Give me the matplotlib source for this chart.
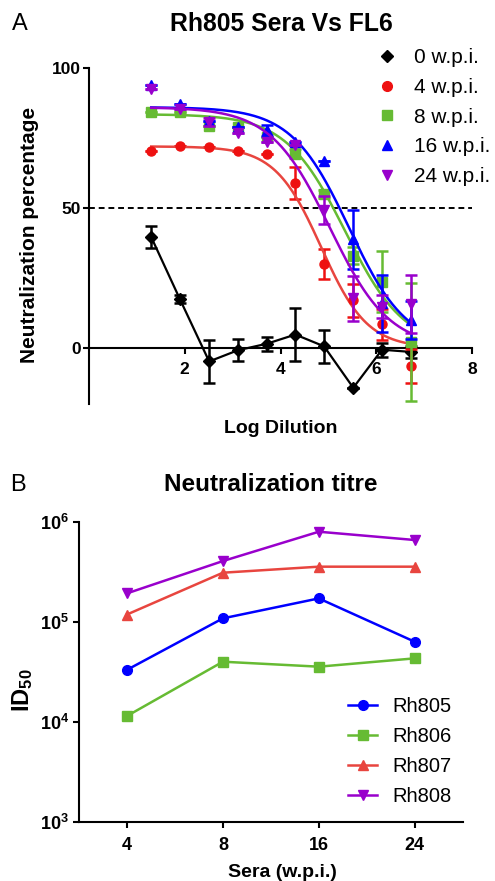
import numpy as np
import matplotlib

matplotlib.use("Agg")
import matplotlib.pyplot as plt
from matplotlib.lines import Line2D

plt.rcParams["font.family"] = ["Liberation Sans", "DejaVu Sans"]
plt.rcParams["mathtext.fontset"] = "custom"
plt.rcParams["mathtext.rm"] = "Liberation Sans"
plt.rcParams["mathtext.bf"] = "Liberation Sans:bold"

# ---- panel A: neutralization curves ----
log_dilution = [1.30, 1.90, 2.51, 3.11, 3.71, 4.31, 4.91, 5.52, 6.12, 6.72]

wpi0 = [39.6, 17.4, -4.8, -0.8, 1.5, 4.8, 0.6, -14.2, -0.6, -1.4]
wpi0_err = [3.8, 1.5, 7.6, 3.9, 2.5, 9.4, 5.8, 0.0, 2.5, 2.0]
wpi4 = [70.2, 72.0, 71.8, 70.4, 69.4, 58.9, 30.1, 17.0, 8.5, -6.5]
wpi4_err = [0.0, 0.0, 0.0, 0.0, 0.0, 5.6, 5.4, 6.0, 5.5, 6.0]
wpi8 = [84.3, 84.3, 79.2, 79.0, 75.4, 69.4, 54.9, 32.9, 23.7, 2.1]
wpi8_err = [0.0, 0.0, 0.0, 0.0, 0.0, 1.5, 1.5, 3.0, 11.0, 21.2]
wpi16 = [93.8, 87.3, 81.1, 78.9, 77.7, 73.6, 66.8, 38.8, 16.0, 10.0]
wpi16_err = [0.0, 0.0, 0.0, 0.0, 2.0, 0.0, 0.0, 10.5, 10.2, 6.7]
wpi24 = [92.6, 85.5, 80.8, 76.9, 73.6, 72.4, 49.2, 17.7, 14.8, 15.7]
wpi24_err = [0.0, 0.0, 1.5, 0.0, 0.0, 0.0, 5.0, 7.9, 4.0, 10.5]

# fitted sigmoid parameters: top, bottom, logEC50, hill slope
fit4 = (72.0, 0.0, 4.85, 0.90)
fit8 = (83.5, 0.0, 5.35, 0.70)
fit16 = (86.0, 0.0, 5.43, 0.72)
fit24 = (86.0, 0.0, 5.03, 0.70)

legend_a = ["0 w.p.i.", "4 w.p.i.", "8 w.p.i.", "16 w.p.i.", "24 w.p.i."]

# ---- panel B: ID50 titres ----
sera = ["4", "8", "16", "24"]
rh805 = [3.3e4, 1.08e5, 1.71e5, 6.3e4]
rh806 = [1.14e4, 3.98e4, 3.55e4, 4.3e4]
rh807 = [1.18e5, 3.09e5, 3.55e5, 3.55e5]
rh808 = [1.92e5, 4.04e5, 7.94e5, 6.56e5]
titre_ticks = [1e3, 1e4, 1e5, 1e6]
titre_labels = [r"$\mathbf{10^3}$", r"$\mathbf{10^4}$", r"$\mathbf{10^5}$", r"$\mathbf{10^6}$"]

BLACK = "#000000"
RED_PT = "#ee1111"
RED_LN = "#e8453f"
GREEN = "#66bb33"
BLUE = "#0000ff"
PURPLE = "#9900cc"

W, H = 495, 881


def fig_xy(px, py):
    return px / W, 1 - py / H


def sigmoid(x, top, bottom, logec50, hill):
    return bottom + (top - bottom) / (1 + 10 ** ((x - logec50) * hill))


fig = plt.figure(figsize=(W / 100, H / 100), dpi=100)

# ---------------- panel A ----------------
ax = fig.add_axes([89 / W, 1 - 404 / H, 383 / W, 336 / H])
ax.set_xlim(0, 8)
ax.set_ylim(-20, 100)
for s in ("top", "right"):
    ax.spines[s].set_visible(False)
ax.spines["bottom"].set_position(("data", 0))
for s in ("left", "bottom"):
    ax.spines[s].set_linewidth(1.5)
ax.set_xticks([2, 4, 6, 8])
ax.set_yticks([0, 50, 100])
ax.tick_params(width=1.5, length=4, labelsize=12.5)
ax.tick_params(axis="x", pad=6)
ax.tick_params(axis="y", pad=2)
for lab in ax.get_xticklabels() + ax.get_yticklabels():
    lab.set_fontweight("bold")

ax.axhline(50, color="black", ls=(0, (3, 2)), lw=1.4, zorder=1)

xs = np.linspace(log_dilution[0], log_dilution[-1], 200)
eb = dict(capsize=4.5, elinewidth=1.8, capthick=1.8)

ax.errorbar(log_dilution, wpi0, yerr=wpi0_err, color=BLACK, marker="D", ms=6,
            lw=1.6, zorder=3, **eb)
series = [
    (wpi4, wpi4_err, fit4, RED_PT, RED_LN, "o", 6.5),
    (wpi8, wpi8_err, fit8, GREEN, GREEN, "s", 6.5),
    (wpi16, wpi16_err, fit16, BLUE, BLUE, "^", 7),
    (wpi24, wpi24_err, fit24, PURPLE, PURPLE, "v", 7),
]
for i, (vals, err, fit, cpt, cln, mk, ms) in enumerate(series):
    ax.errorbar(log_dilution, vals, yerr=err, color=cpt, marker=mk, ms=ms,
                ls="none", zorder=4 + i, **eb)
    ax.plot(xs, sigmoid(xs, *fit), color=cln, lw=1.8, zorder=4 + i)

handles_a = [
    Line2D([], [], ls="none", marker="D", ms=6, color=BLACK),
    Line2D([], [], ls="none", marker="o", ms=7, color=RED_PT),
    Line2D([], [], ls="none", marker="s", ms=7, color=GREEN),
    Line2D([], [], ls="none", marker="^", ms=7, color=BLUE),
    Line2D([], [], ls="none", marker="v", ms=7, color=PURPLE),
]
fig.legend(handles_a, legend_a, loc="upper left", bbox_to_anchor=fig_xy(377, 48),
           frameon=False, fontsize=15, borderpad=0, borderaxespad=0,
           handlelength=0.95, handletextpad=0.85, labelspacing=0.52)

fig.text(*fig_xy(281, 31), "Rh805 Sera Vs FL6", ha="center", va="baseline",
         fontsize=17.8, fontweight="bold")
fig.text(*fig_xy(12, 30), "A", ha="left", va="baseline", fontsize=17)
fig.text(*fig_xy(30, 235), "Neutralization percentage", ha="center", va="center",
         rotation=90, fontsize=15, fontweight="bold")
fig.text(*fig_xy(281, 433), "Log Dilution", ha="center", va="baseline",
         fontsize=14, fontweight="bold")

# ---------------- panel B ----------------
bx = fig.add_axes([79 / W, 1 - 821.7 / H, 383.7 / W, 300 / H])
pos = np.arange(len(sera))
bx.set_yscale("log")
bx.set_ylim(1e3, 1e6)
bx.set_xlim(-0.5, 3.5)
for s in ("top", "right"):
    bx.spines[s].set_visible(False)
for s in ("left", "bottom"):
    bx.spines[s].set_linewidth(1.5)
bx.set_yticks(titre_ticks)
bx.set_yticklabels(titre_labels)
bx.yaxis.set_minor_locator(matplotlib.ticker.NullLocator())
bx.set_xticks(pos)
bx.set_xticklabels(sera)
bx.tick_params(width=1.5, length=4, labelsize=13)
bx.tick_params(axis="x", pad=7)
bx.tick_params(axis="y", pad=3)
for lab in bx.get_xticklabels():
    lab.set_fontweight("bold")

bx.plot(pos, rh805, color=BLUE, marker="o", ms=7, lw=1.8, label="Rh805")
bx.plot(pos, rh806, color=GREEN, marker="s", ms=7, lw=1.8, label="Rh806")
bx.plot(pos, rh807, color=RED_LN, marker="^", ms=7.5, lw=1.8, label="Rh807")
bx.plot(pos, rh808, color=PURPLE, marker="v", ms=7.5, lw=1.8, label="Rh808")
fig.legend(*bx.get_legend_handles_labels(), loc="upper left",
           bbox_to_anchor=fig_xy(348, 697), frameon=False, fontsize=14.5,
           borderpad=0, borderaxespad=0, handlelength=1.45, handletextpad=0.75,
           labelspacing=0.55)

fig.text(*fig_xy(271, 491), "Neutralization titre", ha="center", va="baseline",
         fontsize=17.5, fontweight="bold")
fig.text(*fig_xy(10, 491), "B", ha="left", va="baseline", fontsize=17)
fig.text(*fig_xy(23, 690), r"$\mathbf{ID_{50}}$", ha="center", va="center",
         rotation=90, fontsize=17)
fig.text(*fig_xy(282, 877), "Sera (w.p.i.)", ha="center", va="baseline",
         fontsize=14, fontweight="bold")

fig.savefig("out.png", dpi=100)
